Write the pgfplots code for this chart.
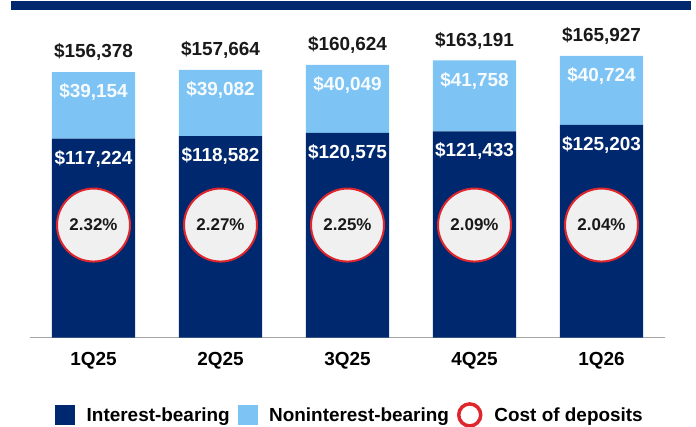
\documentclass[border=0pt]{standalone}
\usepackage{fontspec}
\setmainfont{Liberation Sans}
\usepackage{pgfplots}
\pgfplotsset{compat=1.18}
\usepackage{pgfplotstable}

\definecolor{navy}{RGB}{0,40,110}
\definecolor{lightb}{RGB}{125,196,245}
\definecolor{ringred}{RGB}{222,38,44}
\definecolor{discfill}{RGB}{240,240,240}

% deposits by quarter ($ millions)
\pgfplotstableread{
x ib nib total
0 117224 39154 156378
1 118582 39082 157664
2 120575 40049 160624
3 121433 41758 163191
4 125203 40724 165927
}\deposits

% cost of deposits (%), circles sit at a fixed height
\pgfplotstableread{
x cy cost
0 66300 2.32
1 66300 2.27
2 66300 2.25
3 66300 2.09
4 66300 2.04
}\costs

\newcommand{\bigfont}{\fontsize{19}{21}\selectfont\bfseries}

\begin{document}
\begin{tikzpicture}
\useasboundingbox (0,0) rectangle (696bp,427bp);
\fill[navy] (11bp,417bp) rectangle (691bp,426bp);

\pgfplotsset{base/.style={
  at={(30bp,89.3bp)}, anchor=south west,
  scale only axis, width=635bp, height=317.7bp,
  xmin=-0.5, xmax=4.5, ymin=0, ymax=187000,
  /pgf/number format/assume math mode=true},
  dollars/.style={draw=none, mark=none, point meta=explicit,
  nodes near coords={\$\pgfmathprintnumber[fixed,precision=0,1000 sep={,},assume math mode=true]{\pgfplotspointmeta}},
  every node near coord/.append style={font=\bigfont, anchor=center}}}

\begin{axis}[base,
  ybar stacked, bar width=0.654,
  axis y line=none, axis x line*=bottom,
  x axis line style={draw=black!35, line width=1.2bp, -},
  xtick=data, xticklabels={1Q25,2Q25,3Q25,4Q25,1Q26},
  major tick length=0,
  xticklabel style={font=\bigfont, yshift=-11bp},
]
\addplot[fill=navy, draw=none] table[x=x, y=ib] {\deposits};
\addplot[fill=lightb, draw=none] table[x=x, y=nib] {\deposits};
\end{axis}

\begin{axis}[base, axis lines=none,
  legend columns=3,
  legend style={at={(0.504,-0.243)}, anchor=center, draw=none, fill=none,
    font=\bigfont,
    /tikz/every odd column/.append style={column sep=10bp},
    /tikz/every even column/.append style={column sep=6bp}},
]
% value labels
\addplot[dollars, forget plot,
  every node near coord/.append style={white, yshift=-20bp}]
  table[x=x, y=ib, meta=ib] {\deposits};
\addplot[dollars, forget plot,
  every node near coord/.append style={white!94!lightb, yshift=-20bp}]
  table[x=x, y=total, meta=nib] {\deposits};
\addplot[dollars, forget plot,
  every node near coord/.append style={black!90, yshift=20bp}]
  table[x=x, y=total, meta=total] {\deposits};
% cost of deposits
\addplot[only marks, mark=*, mark size=36.5bp,
  mark options={fill=discfill, draw=ringred, line width=2bp},
  point meta=explicit,
  nodes near coords={\pgfmathprintnumber[fixed,fixed zerofill,precision=2,assume math mode=true]{\pgfplotspointmeta}\%},
  every node near coord/.append style={anchor=center, black!90,
    font=\fontsize{17}{19}\selectfont\bfseries},
  forget plot]
  table[x=x, y=cy, meta=cost] {\costs};
\addlegendimage{legend image code/.code={\fill[navy] (0bp,-9.5bp) rectangle (19bp,9.5bp);}}
\addlegendentry{Interest-bearing}
\addlegendimage{legend image code/.code={\fill[lightb] (0bp,-9.5bp) rectangle (19bp,9.5bp);}}
\addlegendentry{Noninterest-bearing}
\addlegendimage{legend image code/.code={\draw[ringred, line width=3.5bp] (11bp,0bp) circle (11bp);}}
\addlegendentry{Cost of deposits}
\end{axis}
\end{tikzpicture}
\end{document}
